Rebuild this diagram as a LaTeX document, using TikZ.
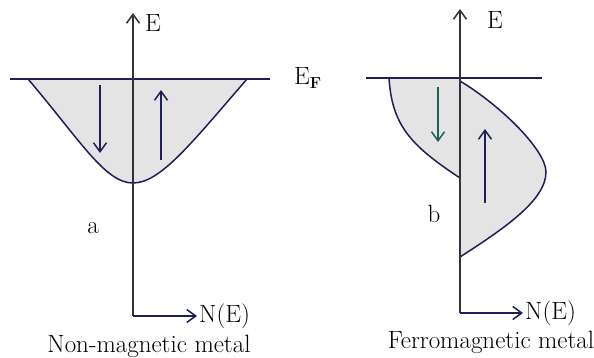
\documentclass[tikz,border=0pt]{standalone}
\usepackage{fontspec}
\usetikzlibrary{arrows.meta}
\definecolor{navy}{RGB}{30,30,90}
\definecolor{axisgray}{RGB}{50,50,55}
\definecolor{teal2}{RGB}{30,95,90}
\definecolor{dosfill}{RGB}{228,228,228}
\tikzset{
  barb/.style={-{Straight Barb[length=9pt,width=13pt,line width=1.5pt]}},
  axis/.style={line width=1.8pt, draw=axisgray},
  fermi/.style={line width=1.8pt, draw=navy},
  dos/.style={line width=1.5pt, draw=navy, fill=dosfill},
  spin/.style={line width=1.7pt, barb},
  lbl/.style={font=\rmfamily\fontsize{25}{29}\selectfont, inner sep=0pt},
}
\begin{document}
\begin{tikzpicture}[x=1pt,y=-1pt]
\useasboundingbox (0,0) rectangle (594,358);
% ---------- left: non-magnetic ----------
\coordinate (aO) at (133,316);
\coordinate (aTop) at (133,13);
\coordinate (aRight) at (197,316);
\coordinate (aFL) at (10,79);
\coordinate (aFR) at (270,79);
\fill[dosfill] (28,79) .. controls (80,140) and (105,183) .. (133,183)
  .. controls (160,183) and (190,145) .. (247,79) -- cycle;
\draw[line width=1.5pt, navy] (28,79) .. controls (80,140) and (105,183) .. (133,183)
  .. controls (160,183) and (190,145) .. (247,79);
\draw[fermi] (aFL) -- (aFR);
\draw[axis, barb] (aO) -- (aTop);
\draw[fermi, barb] (aO) -- (aRight);
\coordinate (aD1) at (100,85);
\coordinate (aD2) at (100,153);
\coordinate (aU1) at (161,160);
\coordinate (aU2) at (161,90);
\draw[spin, navy] (aD1) -- (aD2);
\draw[spin, navy] (aU1) -- (aU2);
\node[lbl] (aE) at (153,23) {E};
\node[lbl] (EF) at (308,78) {E\textsubscript{\textbf{\fontsize{16}{16}\selectfont F}}};
\node[lbl] (aLab) at (93,228) {a};
\node[lbl, anchor=west] (aN) at (199,316) {N(E)};
\node[lbl] (aCap) at (149,346) {Non-magnetic metal};
% ---------- right: ferromagnetic ----------
\coordinate (bO) at (460,313);
\coordinate (bTop) at (460,9);
\coordinate (bRight) at (523,313);
\coordinate (bFL) at (366,78);
\coordinate (bFR) at (542,78);
\draw[dos] (389,78) .. controls (392,125) and (410,145) .. (460,178) -- (460,78) -- cycle;
\draw[dos] (460,81) .. controls (500,105) and (546,150) .. (546,172)
  .. controls (546,200) and (505,228) .. (460,257) -- cycle;
\draw[fermi] (bFL) -- (bFR);
\draw[axis, barb] (bO) -- (bTop);
\draw[fermi, barb] (bO) -- (bRight);
\coordinate (bD1) at (438,87);
\coordinate (bD2) at (438,142);
\coordinate (bU1) at (485,203);
\coordinate (bU2) at (485,129);
\draw[spin, teal2] (bD1) -- (bD2);
\draw[spin, navy] (bU1) -- (bU2);
\node[lbl] (bE) at (495,20) {E};
\node[lbl] (bLab) at (434,214) {b};
\node[lbl, anchor=west] (bN) at (525,313) {N(E)};
\node[lbl] (bCap) at (491,342) {Ferromagnetic metal};
\end{tikzpicture}
\end{document}
